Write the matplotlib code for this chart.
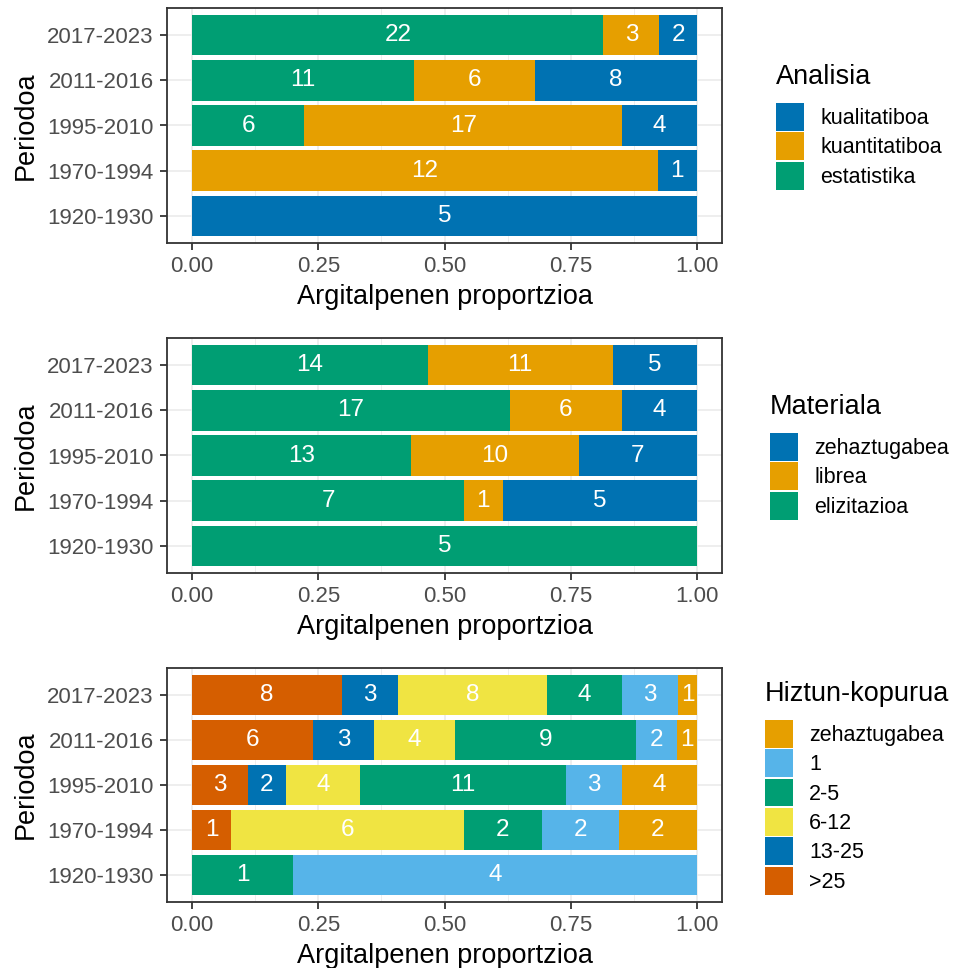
import matplotlib
matplotlib.use("Agg")
import matplotlib.pyplot as plt
from matplotlib.patches import Patch
import numpy as np

plt.rcParams['font.family'] = ['Liberation Sans', 'DejaVu Sans']

periods = ["1920-1930", "1970-1994", "1995-2010", "2011-2016", "2017-2023"]

# Panel 1: Analisia (stack order left->right)
analisia_levels = ["estatistika", "kuantitatiboa", "kualitatiboa"]
analisia_estatistika = [0, 0, 6, 11, 22]
analisia_kuantitatiboa = [0, 12, 17, 6, 3]
analisia_kualitatiboa = [5, 1, 4, 8, 2]

# Panel 2: Materiala
materiala_levels = ["elizitazioa", "librea", "zehaztugabea"]
materiala_elizitazioa = [5, 7, 13, 17, 14]
materiala_librea = [0, 1, 10, 6, 11]
materiala_zehaztugabea = [0, 5, 7, 4, 5]

# Panel 3: Hiztun-kopurua
hiztun_levels = [">25", "13-25", "6-12", "2-5", "1", "zehaztugabea"]
hiztun_gt25 = [0, 1, 3, 6, 8]
hiztun_13_25 = [0, 0, 2, 3, 3]
hiztun_6_12 = [0, 6, 4, 4, 8]
hiztun_2_5 = [1, 2, 11, 9, 4]
hiztun_1 = [4, 2, 3, 2, 3]
hiztun_zehaz = [0, 2, 4, 1, 1]

GREEN = "#009E73"; ORANGE = "#E69F00"; BLUE = "#0072B2"
SKY = "#56B4E9"; YELLOW = "#F0E442"; VERM = "#D55E00"

panels = [
    ("Analisia", analisia_levels,
     [analisia_estatistika, analisia_kuantitatiboa, analisia_kualitatiboa],
     [GREEN, ORANGE, BLUE]),
    ("Materiala", materiala_levels,
     [materiala_elizitazioa, materiala_librea, materiala_zehaztugabea],
     [GREEN, ORANGE, BLUE]),
    ("Hiztun-kopurua", hiztun_levels,
     [hiztun_gt25, hiztun_13_25, hiztun_6_12, hiztun_2_5, hiztun_1, hiztun_zehaz],
     [VERM, BLUE, YELLOW, GREEN, SKY, ORANGE]),
]

W, H = 957, 968
fig = plt.figure(figsize=(W / 100, H / 100), dpi=100)

# pixel boxes (left, top, right, bottom)
boxes = [(167, 8, 722, 243), (167, 338, 722, 573), (167, 668, 722, 902)]
legend_pos = [(776, 127), (770, 457), (765, 788)]

for (title, levels, series, colors), (l, t, r, b), (lx, ly) in zip(panels, boxes, legend_pos):
    ax = fig.add_axes([l / W, 1 - b / H, (r - l) / W, (b - t) / H])
    data = np.array(series, dtype=float)
    totals = data.sum(axis=0)
    props = data / totals
    y = np.arange(len(periods))
    left = np.zeros(len(periods))
    for i in range(len(levels)):
        ax.barh(y, props[i], left=left, height=0.9, color=colors[i], linewidth=0, zorder=2)
        for j in range(len(periods)):
            if data[i, j] > 0:
                ax.text(left[j] + props[i, j] / 2, y[j], f"{int(data[i, j])}",
                        ha="center", va="center", color="white", fontsize=17.5, zorder=3)
        left += props[i]
    ax.set_xlim(-0.05, 1.05)
    ax.set_ylim(-0.6, len(periods) - 0.4)
    ax.set_yticks(y)
    ax.set_yticklabels(periods)
    ax.set_xticks([0, 0.25, 0.5, 0.75, 1.0])
    ax.set_xticklabels(["0.00", "0.25", "0.50", "0.75", "1.00"])
    ax.set_xticks([0.125, 0.375, 0.625, 0.875], minor=True)
    ax.grid(True, which="major", color="#EBEBEB", linewidth=1.2, zorder=0)
    ax.grid(True, which="minor", axis="x", color="#EBEBEB", linewidth=0.6, zorder=0)
    ax.set_axisbelow(True)
    ax.tick_params(axis="both", which="major", length=5, width=1.3, color="#333333",
                   labelcolor="#4D4D4D", labelsize=16, pad=4.5)
    ax.tick_params(axis="x", which="minor", length=0)
    for s in ax.spines.values():
        s.set_color("#333333")
        s.set_linewidth(1.3)
    ax.set_xlabel("Argitalpenen proportzioa", fontsize=19.5, color="black", labelpad=5)
    ax.set_ylabel("Periodoa", fontsize=19.5, color="black", labelpad=6)

    handles = [Patch(facecolor=colors[i], edgecolor="none") for i in range(len(levels))][::-1]
    labels = levels[::-1]
    leg = fig.legend(handles, labels, title=title, loc="center left",
                     bbox_to_anchor=(lx / W, 1 - ly / H), frameon=False,
                     fontsize=15.5, title_fontsize=19.5, handlelength=1.3, handleheight=1.62,
                     labelspacing=0.07, handletextpad=0.75, borderpad=0, borderaxespad=0,
                     alignment="left")
    leg._legend_box.sep = 9

fig.savefig("out.png", dpi=100)
